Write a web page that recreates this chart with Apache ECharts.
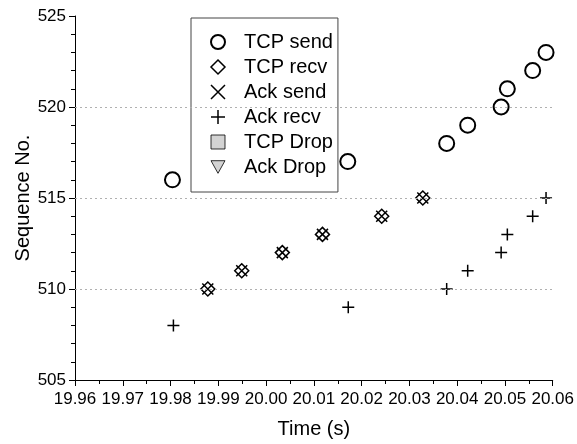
<!DOCTYPE html>
<html>
<head>
<meta charset="utf-8">
<script src="https://cdn.jsdelivr.net/npm/echarts@6/dist/echarts.min.js"></script>
<style>html,body{margin:0;padding:0;background:#fff;}#chart{width:577px;height:444px;}</style>
</head>
<body>
<div id="chart"></div>
<script>
const seriesNames = ['TCP send', 'TCP recv', 'Ack send', 'Ack recv', 'TCP Drop', 'Ack Drop'];
const tcpSendTime = [19.9804, 20.0171, 20.0378, 20.0422, 20.0492, 20.0505, 20.0558, 20.0586];
const tcpSendSeq  = [516, 517, 518, 519, 520, 521, 522, 523];
const tcpRecvTime = [19.9878, 19.9949, 20.0034, 20.0118, 20.0242, 20.0328];
const tcpRecvSeq  = [510, 511, 512, 513, 514, 515];
const ackSendTime = [19.9878, 19.9949, 20.0034, 20.0118, 20.0242, 20.0328];
const ackSendSeq  = [510, 511, 512, 513, 514, 515];
const ackRecvTime = [19.9806, 20.0172, 20.0378, 20.0422, 20.0492, 20.0505, 20.0558, 20.0586];
const ackRecvSeq  = [508, 509, 510, 511, 512, 513, 514, 515];
const tcpDropTime = [];
const tcpDropSeq  = [];
const ackDropTime = [];
const ackDropSeq  = [];
const gridLineValues = [510, 515, 520];

const FONT = 'Liberation Sans';
const zip = (xs, ys) => xs.map((x, i) => [x, ys[i]]);
const X_PATH = 'path://M0,0L10,10M10,0L0,10';
const PLUS_PATH = 'path://M5,0L5,10M0,5L10,5';
const TRI_DOWN = 'path://M0,0L10,0L5,9Z';
const SQUARE = 'path://M0,0L10,0L10,10L0,10Z';
const DIAMOND = 'path://M5,0L10,5L5,10L0,5Z';

const chart = echarts.init(document.getElementById('chart'), null, {renderer: 'canvas'});
const option = {
  animation: false,
  backgroundColor: '#fff',
  grid: {left: 75, right: 24, top: 16, bottom: 62, containLabel: false},
  legend: {
    orient: 'vertical', left: 191, top: 18,
    borderColor: '#444', borderWidth: 1, borderRadius: 0,
    padding: [14, 5, 15, 19], itemGap: 5, itemWidth: 14, itemHeight: 14,
    symbolKeepAspect: true,
    textStyle: {fontFamily: FONT, fontSize: 20, lineHeight: 20, color: '#000', padding: [0, 0, 0, 14]},
    data: [
      {name: seriesNames[0], icon: 'circle', itemStyle: {color: 'transparent', borderColor: '#000', borderWidth: 2}},
      {name: seriesNames[1], icon: DIAMOND, itemStyle: {color: 'transparent', borderColor: '#000', borderWidth: 1.5}},
      {name: seriesNames[2], icon: X_PATH, itemStyle: {color: 'transparent', borderColor: '#000', borderWidth: 1.5}},
      {name: seriesNames[3], icon: PLUS_PATH, itemStyle: {color: 'transparent', borderColor: '#000', borderWidth: 1.5}},
      {name: seriesNames[4], icon: SQUARE, itemStyle: {color: '#c8c8c8', borderColor: '#000', borderWidth: 1}},
      {name: seriesNames[5], icon: TRI_DOWN, itemStyle: {color: '#c8c8c8', borderColor: '#000', borderWidth: 1}}
    ]
  },
  xAxis: {
    type: 'value', min: 19.96, max: 20.06, interval: 0.01,
    name: 'Time (s)', nameLocation: 'middle', nameGap: 39, nameMoveOverlap: false,
    nameTextStyle: {fontFamily: FONT, fontSize: 20, color: '#000'},
    axisLine: {show: true, onZero: false, lineStyle: {color: '#000', width: 1}},
    axisTick: {show: true, length: 6, lineStyle: {color: '#000'}},
    minorTick: {show: true, splitNumber: 2, length: 4, lineStyle: {color: '#000'}},
    axisLabel: {fontFamily: FONT, fontSize: 17, color: '#000', margin: 11, formatter: v => v.toFixed(2)},
    splitLine: {show: false}
  },
  yAxis: {
    type: 'value', min: 505, max: 525, interval: 5,
    name: 'Sequence No.', nameLocation: 'middle', nameGap: 42, nameMoveOverlap: false,
    nameTextStyle: {fontFamily: FONT, fontSize: 20, color: '#000'},
    axisLine: {show: true, onZero: false, lineStyle: {color: '#000', width: 1}},
    axisTick: {show: true, length: 6, lineStyle: {color: '#000'}},
    minorTick: {show: true, splitNumber: 5, length: 4, lineStyle: {color: '#000'}},
    axisLabel: {fontFamily: FONT, fontSize: 17, color: '#000', margin: 9},
    splitLine: {show: false}
  },
  series: [
    {
      name: seriesNames[0], type: 'scatter', symbol: 'circle', symbolSize: 15,
      itemStyle: {color: 'transparent', borderColor: '#000', borderWidth: 2, opacity: 1},
      data: zip(tcpSendTime, tcpSendSeq),
      markLine: {
        silent: true, symbol: 'none', label: {show: false},
        lineStyle: {type: [2, 3], color: '#b0b0b0', width: 1},
        data: gridLineValues.map(v => ({yAxis: v}))
      },
      z: 3
    },
    {
      name: seriesNames[1], type: 'scatter', symbol: DIAMOND, symbolSize: 14,
      itemStyle: {color: 'transparent', borderColor: '#000', borderWidth: 1.5, opacity: 1},
      data: zip(tcpRecvTime, tcpRecvSeq), z: 3
    },
    {
      name: seriesNames[2], type: 'scatter', symbol: X_PATH, symbolSize: 11,
      itemStyle: {color: 'transparent', borderColor: '#000', borderWidth: 1.5, opacity: 1},
      data: zip(ackSendTime, ackSendSeq), z: 3
    },
    {
      name: seriesNames[3], type: 'scatter', symbol: PLUS_PATH, symbolSize: 12,
      itemStyle: {color: 'transparent', borderColor: '#000', borderWidth: 1.5, opacity: 1},
      data: zip(ackRecvTime, ackRecvSeq), z: 3
    },
    {
      name: seriesNames[4], type: 'scatter', symbol: SQUARE, symbolSize: 11,
      itemStyle: {color: '#c8c8c8', borderColor: '#000', borderWidth: 1},
      data: zip(tcpDropTime, tcpDropSeq)
    },
    {
      name: seriesNames[5], type: 'scatter', symbol: TRI_DOWN, symbolSize: 12,
      itemStyle: {color: '#c8c8c8', borderColor: '#000', borderWidth: 1},
      data: zip(ackDropTime, ackDropSeq)
    }
  ]
};
chart.setOption(option);
</script>
</body>
</html>
